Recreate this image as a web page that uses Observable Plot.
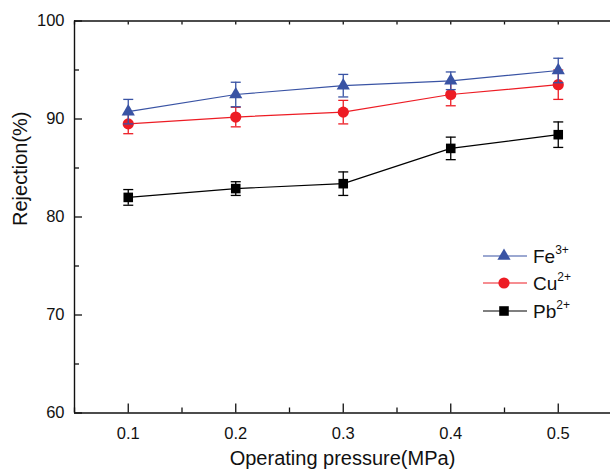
<!DOCTYPE html>
<html>
<head>
<meta charset="utf-8">
<script src="https://cdn.jsdelivr.net/npm/d3@7"></script>
<script src="https://cdn.jsdelivr.net/npm/@observablehq/plot@0.6"></script>
<style>
  html, body { margin: 0; padding: 0; background: #fff; }
  #wrap { position: relative; width: 610px; height: 471px; overflow: hidden; font-family: "Liberation Sans", Arial, sans-serif; }
  #legend { position: absolute; left: 483px; top: 242px; }
  .row { display: flex; align-items: center; height: 27.5px; }
  .row span { font-size: 19px; color: #111; margin-left: 6px; line-height: 1; }
  .row sup { font-size: 12px; position: relative; top: -2px; }
</style>
</head>
<body>
<div id="wrap"></div>
<script>
// ---- data ----
const pressure = [0.1, 0.2, 0.3, 0.4, 0.5];
const feValues = [90.75, 92.5, 93.4, 93.9, 94.95];
const feErrors = [1.25, 1.25, 1.15, 0.9, 1.25];
const cuValues = [89.5, 90.2, 90.7, 92.5, 93.5];
const cuErrors = [1.0, 1.0, 1.2, 1.15, 1.5];
const pbValues = [82.0, 82.9, 83.4, 87.0, 88.4];
const pbErrors = [0.8, 0.7, 1.2, 1.15, 1.3];
const seriesNames = ["Fe", "Cu", "Pb"];
const seriesCharges = ["3+", "2+", "2+"];
const seriesColors = ["#3953a4", "#ed1c24", "#000000"];
const seriesSymbols = ["triangle", "circle", "square"];
const seriesRadius = [4.9, 5.6, 5.4];
const xMajorTicks = [0.1, 0.2, 0.3, 0.4, 0.5];
const xMinorTicks = [0.05, 0.15, 0.25, 0.35, 0.45, 0.55];
const yMajorTicks = [60, 70, 80, 90, 100];
const yMinorTicks = [65, 75, 85, 95];
const xTitle = "Operating pressure(MPa)";
const yTitle = "Rejection(%)";

const valueSets = [feValues, cuValues, pbValues];
const errorSets = [feErrors, cuErrors, pbErrors];
const rows = [];
seriesNames.forEach((s, i) => pressure.forEach((p, j) => rows.push({
  series: s, x: p, y: valueSets[i][j], lo: valueSets[i][j] - errorSets[i][j], hi: valueSets[i][j] + errorSets[i][j]
})));

const capSymbol = { draw(ctx) { ctx.moveTo(-5, 0); ctx.lineTo(5, 0); } };

const marks = [];
// frame lines
marks.push(Plot.ruleY([60], {stroke: "#111", strokeWidth: 1.4}));
marks.push(Plot.ruleY([100], {stroke: "#111", strokeWidth: 1.4}));
marks.push(Plot.ruleX([0.05], {stroke: "#111", strokeWidth: 1.4}));
// axes
marks.push(Plot.axisX({anchor: "bottom", ticks: xMajorTicks, tickSize: -9, tickPadding: 23, tickFormat: d3.format(".1f"), label: null, stroke: "#111", strokeWidth: 1.3, fill: "#111"}));
marks.push(Plot.axisX({anchor: "bottom", ticks: xMinorTicks, tickSize: -5, text: null, label: null, stroke: "#111", strokeWidth: 1.3}));
marks.push(Plot.axisX({anchor: "top", ticks: xMajorTicks.concat(xMinorTicks), tickSize: -3, text: null, label: null, stroke: "#111", strokeWidth: 1.3}));
marks.push(Plot.axisY({anchor: "left", ticks: yMajorTicks, tickSize: -8, tickPadding: 18, label: null, stroke: "#111", strokeWidth: 1.3, fill: "#111"}));
marks.push(Plot.axisY({anchor: "left", ticks: yMinorTicks, tickSize: -5, text: null, label: null, stroke: "#111", strokeWidth: 1.3}));
// titles
marks.push(Plot.text([xTitle], {text: d => d, frameAnchor: "bottom", dy: 46, fontSize: 20, fill: "#111", lineAnchor: "middle"}));
marks.push(Plot.text([yTitle], {text: d => d, frameAnchor: "left", dx: -54, dy: 9, rotate: -90, fontSize: 20, fill: "#111", lineAnchor: "middle"}));

// series (draw Pb, Cu, Fe)
[2, 1, 0].forEach(i => {
  const s = seriesNames[i];
  const data = rows.filter(r => r.series === s);
  const c = seriesColors[i];
  marks.push(Plot.ruleX(data, {x: "x", y1: "lo", y2: "hi", stroke: c, strokeWidth: 1.3}));
  marks.push(Plot.dot(data, {x: "x", y: "hi", symbol: capSymbol, r: 5, stroke: c, fill: "none", strokeWidth: 1.3}));
  marks.push(Plot.dot(data, {x: "x", y: "lo", symbol: capSymbol, r: 5, stroke: c, fill: "none", strokeWidth: 1.3}));
  marks.push(Plot.line(data, {x: "x", y: "y", stroke: c, strokeWidth: 1.2}));
  marks.push(Plot.dot(data, {x: "x", y: "y", symbol: seriesSymbols[i], r: seriesRadius[i], fill: c, stroke: "none"}));
});

const chart = Plot.plot({
  width: 610,
  height: 471,
  marginLeft: 74,
  marginRight: 0,
  marginTop: 20.5,
  marginBottom: 58.5,
  style: {fontFamily: "'Liberation Sans', Arial, sans-serif", fontSize: "16.5px", background: "#fff", color: "#111"},
  x: {type: "linear", domain: [0.05, 0.55], range: [74, 611.5]},
  y: {type: "linear", domain: [60, 100], range: [412.5, 20.5]},
  marks
});
const wrap = document.getElementById("wrap");
wrap.appendChild(chart);

// legend
const legend = document.createElement("div");
legend.id = "legend";
seriesNames.forEach((s, i) => {
  const row = document.createElement("div");
  row.className = "row";
  const sym = d3.symbol(seriesSymbols[i] === "triangle" ? d3.symbolTriangle : seriesSymbols[i] === "circle" ? d3.symbolCircle : d3.symbolSquare, Math.PI * seriesRadius[i] ** 2)();
  row.innerHTML = `<svg width="44" height="16" style="overflow:visible"><line x1="0" x2="44" y1="8" y2="8" stroke="${seriesColors[i]}" stroke-width="1.2"/><path transform="translate(21,8)" d="${sym}" fill="${seriesColors[i]}"/></svg><span>${s}<sup>${seriesCharges[i]}</sup></span>`;
  legend.appendChild(row);
});
wrap.appendChild(legend);
</script>
</body>
</html>
